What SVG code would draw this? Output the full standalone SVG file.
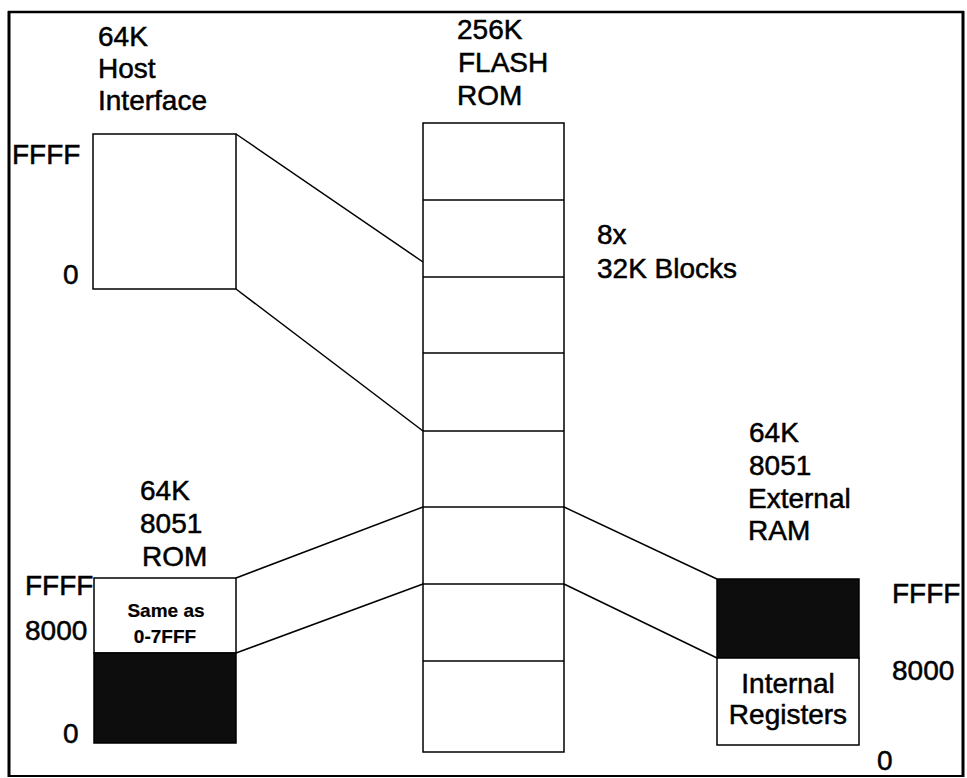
<svg xmlns="http://www.w3.org/2000/svg" width="967" height="778" viewBox="0 0 967 778">
<style>
text{font-family:"Liberation Sans",Arial,sans-serif;font-size:28px;fill:#000;stroke:#000;stroke-width:0.5}
.small{font-size:19px;font-weight:bold;stroke-width:0.2}
.box{fill:#fff;stroke:#000;stroke-width:1.5}
.dark{fill:#0d0d0d;stroke:#000;stroke-width:1.5}
.conn line{stroke:#000;stroke-width:1.5}
.div{stroke:#000;stroke-width:1.5}
</style>
<rect width="967" height="778" fill="#fff"/>
<g id="frame">
<line x1="8" y1="12" x2="964" y2="12" stroke="#000" stroke-width="2.5"/>
<line x1="9" y1="11" x2="9" y2="777" stroke="#000" stroke-width="3"/>
<line x1="963" y1="11" x2="963" y2="777" stroke="#000" stroke-width="3"/>
<line x1="8" y1="776" x2="964" y2="776" stroke="#000" stroke-width="2"/>
</g>
<g id="host-interface">
<text x="98" y="46">64K</text>
<text x="98" y="78">Host</text>
<text x="98" y="110">Interface</text>
<text x="12" y="164">FFFF</text>
<text x="63" y="284">0</text>
<rect class="box" x="93" y="134" width="143" height="155"/>
</g>
<g id="flash-rom">
<text x="457" y="39">256K</text>
<text x="458" y="72">FLASH</text>
<text x="457" y="105">ROM</text>
<rect class="box" x="423" y="123" width="141" height="629"/>
<line class="div" x1="423" y1="200" x2="564" y2="200"/>
<line class="div" x1="423" y1="277" x2="564" y2="277"/>
<line class="div" x1="423" y1="353" x2="564" y2="353"/>
<line class="div" x1="423" y1="431" x2="564" y2="431"/>
<line class="div" x1="423" y1="507" x2="564" y2="507"/>
<line class="div" x1="423" y1="584" x2="564" y2="584"/>
<line class="div" x1="423" y1="661" x2="564" y2="661"/>
<text x="597" y="244">8x</text>
<text x="597" y="278">32K Blocks</text>
</g>
<g id="rom-8051">
<text x="140" y="500">64K</text>
<text x="140" y="533">8051</text>
<text x="142" y="566">ROM</text>
<text x="25" y="595">FFFF</text>
<text x="25" y="640">8000</text>
<text x="63" y="743">0</text>
<rect class="box" x="94" y="578" width="142" height="75"/>
<rect class="dark" x="94" y="653" width="142" height="90"/>
<text class="small" x="166" y="617" text-anchor="middle">Same as</text>
<text class="small" x="165" y="643" text-anchor="middle">0-7FFF</text>
</g>
<g id="ram-8051">
<text x="749" y="442">64K</text>
<text x="749" y="475">8051</text>
<text x="748" y="508">External</text>
<text x="748" y="540">RAM</text>
<rect class="dark" x="717" y="579" width="142" height="79"/>
<rect class="box" x="717" y="658" width="142" height="87"/>
<text x="788" y="693" text-anchor="middle">Internal</text>
<text x="788" y="724" text-anchor="middle">Registers</text>
<text x="892" y="603">FFFF</text>
<text x="892" y="680">8000</text>
<text x="877" y="770">0</text>
</g>
<g id="connectors" class="conn">
<line x1="236" y1="134" x2="423" y2="262"/>
<line x1="236" y1="289" x2="423" y2="431"/>
<line x1="236" y1="578" x2="423" y2="507"/>
<line x1="236" y1="653" x2="423" y2="584"/>
<line x1="564" y1="507" x2="717" y2="579"/>
<line x1="564" y1="584" x2="717" y2="658"/>
</g>
</svg>
